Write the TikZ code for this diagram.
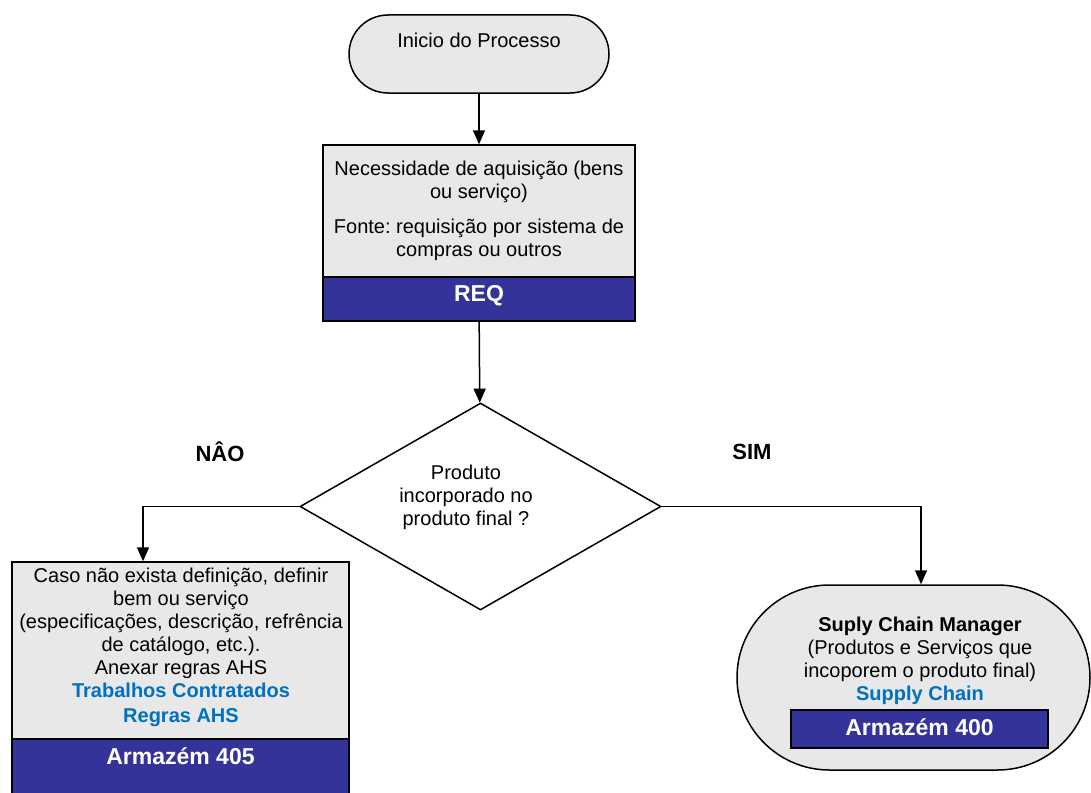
\documentclass[tikz,border=0pt]{standalone}
\usepackage{fontspec}
\setmainfont{Liberation Sans}
\usetikzlibrary{arrows.meta,shapes.geometric,shapes.misc}
\definecolor{boxgray}{HTML}{E8E8E8}
\definecolor{bandblue}{HTML}{333399}
\definecolor{linkblue}{RGB}{0,112,192}
\frenchspacing

\begin{document}
\begin{tikzpicture}[x=1pt,y=-1pt,
  txt/.style={font=\fontsize{20}{23}\selectfont, align=center, inner sep=0pt},
  terminal/.style={rounded rectangle, draw=black, line width=1.5pt, fill=boxgray, inner sep=0pt},
  procbox/.style={rectangle, draw=black, line width=1.5pt, fill=boxgray, inner sep=0pt},
  band/.style={rectangle, draw=black, line width=1.5pt, fill=bandblue, inner sep=0pt},
  bandtxt/.style={font=\fontsize{23}{26}\selectfont\bfseries, text=white, inner sep=0pt},
  decision/.style={diamond, draw=black, line width=1.5pt, fill=white, inner sep=0pt},
  flow/.style={draw=black, line width=1.5pt, -{Triangle[length=14pt,width=12pt]}},
  answer/.style={font=\fontsize{22}{24}\selectfont\bfseries, inner sep=0pt},
]
\clip (0,0) rectangle (1091,792);
\fill[white] (0,0) rectangle (1091,792);

% start terminal
\node[terminal, minimum width=260pt, minimum height=78pt] (start) at (479,54) {};
\node[txt] (starttxt) at (479,40) {Inicio do Processo};

% requisition box with its band
\node[procbox, minimum width=312pt, minimum height=132pt] (req) at (479,211) {};
\node[txt] (reqtxt) at (479,211) {Necessidade de aquisição (bens\\ou serviço)\\[12pt]Fonte: requisição por sistema de\\compras ou outros};
\node[band, minimum width=312pt, minimum height=44pt] (reqband) at (479,299) {};
\node[bandtxt] (reqbandtxt) at (479,296) {REQ};

% decision
\node[decision, minimum width=361pt, minimum height=207pt] (q) at (480.5,506.5) {};
\node[txt] (qtxt) at (466,497) {Produto\\incorporado no\\produto final ?};

\node[answer] (nao) at (220,452) {NÂO};
\node[answer] (sim) at (752,452) {SIM};

% left branch: warehouse 405
\node[procbox, minimum width=337pt, minimum height=177pt] (g405) at (180.5,650.5) {};
\node[band, minimum width=337pt, minimum height=70pt] (b405) at (180.5,774) {};
\node[bandtxt] (b405txt) at (180.5,756) {Armazém 405};
\node[txt] (t405) at (181,647.5) {Caso não exista definição, definir\\[-0.2pt]bem ou serviço\\[-0.2pt](especificações, descrição, refrência\\[-0.2pt]de catálogo, etc.).\\Anexar regras AHS\\\textcolor{linkblue}{\bfseries Trabalhos Contratados}\\[2pt]\textcolor{linkblue}{\bfseries Regras AHS}};

% right branch: supply chain, warehouse 400
\node[terminal, minimum width=353pt, minimum height=185pt] (scm) at (913.5,677.5) {};
\node[txt] (scmtxt) at (920,660.5) {\bfseries Suply Chain Manager\\(Produtos e Serviços que\\incoporem o produto final)\\\textcolor{linkblue}{\bfseries Supply Chain}};
\node[band, minimum width=257pt, minimum height=38pt] (b400) at (919.5,729) {};
\node[bandtxt] (b400txt) at (919.5,727) {Armazém 400};

% connectors
\draw[flow] (start) -- (req);
\draw[flow] (reqband) -- (q);
\draw[flow] (q.west) -| ([xshift=-37.5pt]g405.north);
\draw[flow] (q.east) -| ([xshift=7.5pt]scm.north);
\end{tikzpicture}
\end{document}
